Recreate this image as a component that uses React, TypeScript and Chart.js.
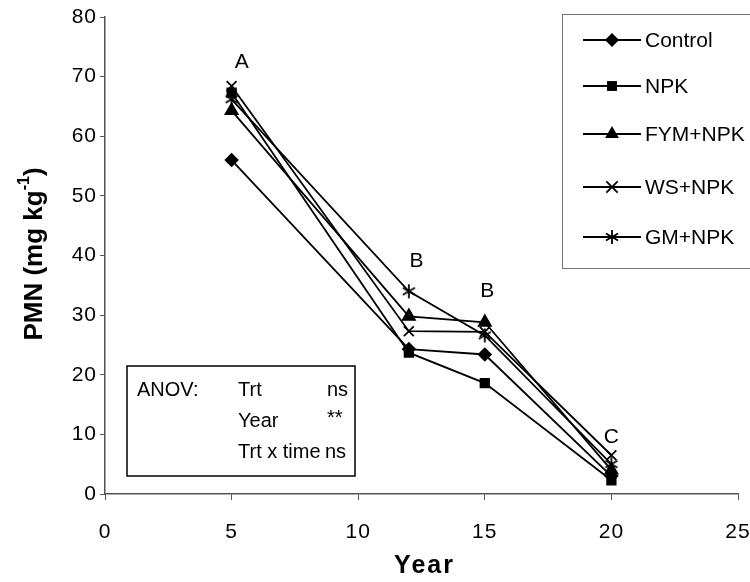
import React, { useEffect, useRef } from "react";
import { Chart, registerables } from "chart.js";

Chart.register(...registerables);

const years = [5, 12, 15, 20];
const control = [56, 24.3, 23.4, 3];
const npk = [67.3, 23.7, 18.6, 2.3];
const fymNpk = [64.3, 29.8, 28.8, 4];
const wsNpk = [68.4, 27.3, 27.2, 6.5];
const gmNpk = [66.2, 34.0, 26.6, 5];

const seriesNames = ["Control", "NPK", "FYM+NPK", "WS+NPK", "GM+NPK"];
const seriesValues = [control, npk, fymNpk, wsNpk, gmNpk];
const seriesMarkers = ["rectRot", "rect", "triangle", "crossRot", "asterisk"];
const seriesRadius = [6, 6, 7, 7, 7];

const letters = [
  { text: "A", x: 5.4, y: 72.5 },
  { text: "B", x: 12.3, y: 39 },
  { text: "B", x: 15.1, y: 34 },
  { text: "C", x: 20, y: 9.5 },
];

const anovRows = [
  ["ANOV:", "Trt", "ns"],
  ["", "Year", "**"],
  ["", "Trt x time", "ns"],
];

const FONT = "'Liberation Sans', Arial, sans-serif";

function makeAsterisk(r: number) {
  const c = document.createElement("canvas");
  const s = Math.ceil(r * 2 + 4);
  c.width = s;
  c.height = s;
  const g = c.getContext("2d")!;
  g.strokeStyle = "#000";
  g.lineWidth = 1.8;
  const cx = s / 2;
  const cy = s / 2;
  g.beginPath();
  for (let k = 0; k < 3; k++) {
    const a = (Math.PI / 3) * k + Math.PI / 2;
    g.moveTo(cx + Math.cos(a) * r, cy + Math.sin(a) * r);
    g.lineTo(cx - Math.cos(a) * r, cy - Math.sin(a) * r);
  }
  g.stroke();
  return c;
}

function drawMarker(ctx: CanvasRenderingContext2D, style: any, r: number, x: number, y: number) {
  ctx.save();
  ctx.fillStyle = "#000";
  ctx.strokeStyle = "#000";
  ctx.lineWidth = 1.8;
  ctx.beginPath();
  if (style === "rectRot") {
    ctx.moveTo(x, y - r);
    ctx.lineTo(x + r, y);
    ctx.lineTo(x, y + r);
    ctx.lineTo(x - r, y);
    ctx.closePath();
    ctx.fill();
  } else if (style === "rect") {
    const s = r * Math.SQRT1_2;
    ctx.rect(x - s, y - s, 2 * s, 2 * s);
    ctx.fill();
  } else if (style === "triangle") {
    let a = 0;
    for (let k = 0; k < 3; k++) {
      const px = x + Math.sin(a) * r;
      const py = y - Math.cos(a) * r;
      if (k === 0) ctx.moveTo(px, py);
      else ctx.lineTo(px, py);
      a += (2 * Math.PI) / 3;
    }
    ctx.closePath();
    ctx.fill();
  } else if (style === "crossRot") {
    const s = r * Math.SQRT1_2;
    ctx.moveTo(x - s, y - s);
    ctx.lineTo(x + s, y + s);
    ctx.moveTo(x - s, y + s);
    ctx.lineTo(x + s, y - s);
    ctx.stroke();
  } else if (style instanceof HTMLCanvasElement) {
    ctx.drawImage(style, x - style.width / 2, y - style.height / 2);
  }
  ctx.restore();
}

export default function App() {
  const ref = useRef<HTMLCanvasElement>(null);

  useEffect(() => {
    const canvas = ref.current!;
    const styles = seriesMarkers.map((m, i) => (m === "asterisk" ? makeAsterisk(seriesRadius[i]) : m));

    const spacing = {
      id: "spacing",
      beforeDraw(chart: any) {
        (chart.ctx as any).letterSpacing = "1px";
      },
    };

    const overlay = {
      id: "overlay",
      afterDraw(chart: any) {
        const ctx = chart.ctx as CanvasRenderingContext2D;
        const xs = chart.scales.x;
        const ys = chart.scales.y;
        ctx.save();
        (ctx as any).letterSpacing = "0px";
        // letters
        ctx.fillStyle = "#000";
        ctx.font = `21px ${FONT}`;
        ctx.textAlign = "center";
        ctx.textBaseline = "middle";
        for (const l of letters) {
          ctx.fillText(l.text, xs.getPixelForValue(l.x), ys.getPixelForValue(l.y));
        }
        // legend
        ctx.strokeStyle = "#777";
        ctx.lineWidth = 1;
        ctx.strokeRect(562.5, 14.5, 200, 254);
        const legY = [40, 86, 134, 187, 237];
        ctx.textAlign = "left";
        ctx.font = `21px ${FONT}`;
        chart.data.datasets.forEach((ds: any, i: number) => {
          const y = legY[i];
          ctx.strokeStyle = "#000";
          ctx.lineWidth = 1.8;
          ctx.beginPath();
          ctx.moveTo(583, y);
          ctx.lineTo(641, y);
          ctx.stroke();
          drawMarker(ctx, styles[i], seriesRadius[i] + 1, 612, y);
          ctx.fillStyle = "#000";
          ctx.fillText(ds.label, 645, y + 1);
        });
        // ANOV box
        ctx.strokeStyle = "#000";
        ctx.lineWidth = 1.5;
        ctx.strokeRect(127, 366, 228, 110);
        ctx.font = `20px ${FONT}`;
        ctx.fillStyle = "#000";
        ctx.textBaseline = "middle";
        const rowY = [390, 421, 452];
        anovRows.forEach((r, i) => {
          if (r[0]) ctx.fillText(r[0], 137, rowY[i]);
          ctx.fillText(r[1], 238, rowY[i]);
          ctx.fillText(r[2], i === 2 ? 325 : 327, rowY[i] + (r[2] === "**" ? -3 : 0));
        });
        // axis titles
        ctx.font = `bold 25px ${FONT}`;
        (ctx as any).letterSpacing = "2px";
        ctx.textAlign = "center";
        ctx.fillText("Year", (xs.left + xs.right) / 2 + 3, 566);
        (ctx as any).letterSpacing = "0px";
        ctx.save();
        ctx.translate(35, 254);
        ctx.rotate(-Math.PI / 2);
        const main = "PMN (mg kg";
        const sup = "-1";
        const close = ")";
        ctx.font = `bold 26px ${FONT}`;
        const w1 = ctx.measureText(main).width;
        ctx.font = `bold 16px ${FONT}`;
        const w2 = ctx.measureText(sup).width;
        ctx.font = `bold 26px ${FONT}`;
        const w3 = ctx.measureText(close).width;
        const x0 = -(w1 + w2 + w3) / 2;
        ctx.textAlign = "left";
        ctx.fillText(main, x0, 0);
        ctx.font = `bold 16px ${FONT}`;
        ctx.fillText(sup, x0 + w1, -10);
        ctx.font = `bold 26px ${FONT}`;
        ctx.fillText(close, x0 + w1 + w2, 0);
        ctx.restore();
        ctx.restore();
      },
    };

    const chart = new Chart(canvas, {
      type: "line",
      data: {
        datasets: seriesNames.map((name, i) => ({
          label: name,
          data: years.map((x, j) => ({ x, y: seriesValues[i][j] })),
          borderColor: "#000",
          backgroundColor: "#000",
          borderWidth: 1.8,
          pointStyle: styles[i] as any,
          pointRadius: seriesRadius[i],
          pointBorderWidth: 1.8,
          pointBorderColor: "#000",
          pointBackgroundColor: "#000",
          tension: 0,
          fill: false,
        })),
      },
      options: {
        responsive: false,
        animation: false,
        layout: { padding: { left: 0, right: 12, top: 17, bottom: 0 } },
        plugins: { legend: { display: false }, tooltip: { enabled: false } },
        scales: {
          x: {
            type: "linear",
            min: 0,
            max: 25,
            ticks: { stepSize: 5, color: "#000", font: { family: FONT, size: 21 }, padding: 20 },
            grid: { display: true, drawOnChartArea: false, drawTicks: true, tickLength: 6, color: "#555" },
            border: { display: true, color: "#555", width: 1.5 },
            afterFit(s: any) {
              s.height = 88;
              s.paddingLeft = 0;
              s.paddingRight = 0;
            },
          },
          y: {
            min: 0,
            max: 80,
            ticks: { stepSize: 10, color: "#000", font: { family: FONT, size: 21 }, padding: 3 },
            grid: { display: true, drawOnChartArea: false, drawTicks: true, tickLength: 5, color: "#555" },
            border: { display: true, color: "#555", width: 1.5 },
            afterFit(s: any) {
              s.width = 105;
              s.paddingTop = 0;
              s.paddingBottom = 0;
            },
          },
        },
      },
      plugins: [spacing, overlay],
    });
    return () => chart.destroy();
  }, []);

  return (
    <div style={{ position: "fixed", left: 0, top: 0, width: 750, height: 582, background: "#fff" }}>
      <canvas ref={ref} width={750} height={582} style={{ display: "block" }} />
    </div>
  );
}
